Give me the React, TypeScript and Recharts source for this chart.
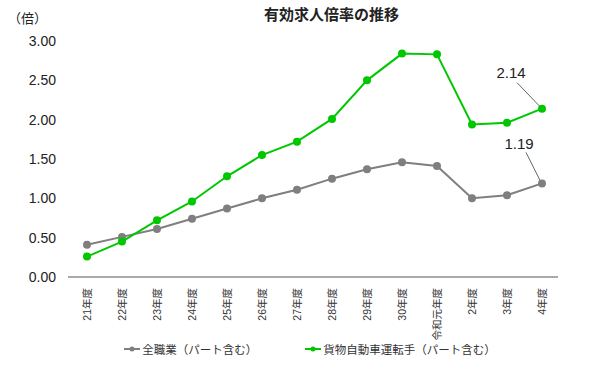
import { LineChart, Line, XAxis, YAxis, Legend, LabelList } from 'recharts'

const FONT = "'Liberation Sans', Arial, 'Noto Sans CJK JP', sans-serif"

const years = [
  '21年度', '22年度', '23年度', '24年度', '25年度', '26年度', '27年度',
  '28年度', '29年度', '30年度', '令和元年度', '2年度', '3年度', '4年度',
]
const allJobs = [0.41, 0.51, 0.61, 0.74, 0.87, 1.0, 1.11, 1.25, 1.37, 1.46, 1.41, 1.0, 1.04, 1.19]
const truckDrivers = [0.26, 0.45, 0.72, 0.96, 1.28, 1.55, 1.72, 2.01, 2.5, 2.84, 2.83, 1.94, 1.96, 2.14]
const yTicks = [0, 0.5, 1, 1.5, 2, 2.5, 3]

const GRAY = '#7f7f7f'
const GREEN = '#00c800'

const chartData = years.map((year, i) => ({
  year,
  all: allJobs[i],
  truck: truckDrivers[i],
}))

const lastIndex = years.length - 1

// vertical tick labels under the axis
function YearTick(props: any) {
  const { x, y, payload } = props
  const tx = x + 4
  const ty = y + 3
  return (
    <text
      x={tx}
      y={ty}
      transform={`rotate(-90 ${tx} ${ty})`}
      textAnchor="end"
      fontSize={10.5}
      fill="#333"
      fontFamily={FONT}
    >
      {payload.value}
    </text>
  )
}

// callout label only on the last point, with a thin leader line
function makeCallout(dx: number, dy: number, line: [number, number, number, number]) {
  return function Callout(props: any) {
    const { x, y, value, index } = props
    if (index !== lastIndex) return null
    return (
      <g>
        <line
          x1={x + line[0]}
          y1={y + line[1]}
          x2={x + line[2]}
          y2={y + line[3]}
          stroke="#666"
          strokeWidth={1}
        />
        <text
          x={x + dx}
          y={y + dy}
          textAnchor="middle"
          dominantBaseline="central"
          fontSize={15}
          fill="#222"
          fontFamily={FONT}
        >
          {value.toFixed(2)}
        </text>
      </g>
    )
  }
}

function LegendContent() {
  const items = [
    { name: '全職業（パート含む）', color: GRAY },
    { name: '貨物自動車運転手（パート含む）', color: GREEN },
  ]
  return (
    <div style={{ display: 'flex', justifyContent: 'center', gap: 48, paddingLeft: 62, paddingTop: 4, fontFamily: FONT }}>
      {items.map((it) => (
        <div key={it.name} style={{ display: 'flex', alignItems: 'center', fontSize: 11.5, color: '#333' }}>
          <svg width={16} height={8} style={{ marginRight: 2 }}>
            <line x1={0} y1={4} x2={16} y2={4} stroke={it.color} strokeWidth={2} />
            <circle cx={8} cy={4} r={2.5} fill={it.color} />
          </svg>
          {it.name}
        </div>
      ))}
    </div>
  )
}

export default function App() {
  return (
    <div style={{ position: 'relative', width: 601, height: 365, background: '#fff', fontFamily: FONT }}>
      <style>{'body{margin:0}'}</style>
      <div
        style={{
          position: 'absolute',
          top: 3,
          left: 264,
          fontSize: 15,
          fontWeight: 'bold',
          color: '#222',
          whiteSpace: 'nowrap',
        }}
      >
        有効求人倍率の推移
      </div>
      <div style={{ position: 'absolute', top: 8, left: 8, fontSize: 13, color: '#222' }}>（倍）</div>
      <LineChart
        width={601}
        height={365}
        data={chartData}
        margin={{ top: 41, right: 43, left: 0, bottom: 5 }}
      >
        <XAxis
          dataKey="year"
          interval={0}
          tick={<YearTick />}
          tickLine={false}
          axisLine={{ stroke: '#8c8c8c', strokeWidth: 1.5 }}
          padding={{ left: 19, right: 16 }}
          height={60}
        />
        <YAxis
          domain={[0, 3]}
          ticks={yTicks}
          tickFormatter={(v: number) => v.toFixed(2)}
          axisLine={false}
          tickLine={false}
          tickMargin={6}
          width={68}
          tick={{ fontSize: 14, fill: '#222', fontFamily: FONT }}
        />
        <Legend verticalAlign="bottom" height={23} content={<LegendContent />} />
        <Line
          dataKey="all"
          name="全職業（パート含む）"
          stroke={GRAY}
          strokeWidth={2}
          dot={{ r: 3, fill: GRAY, stroke: GRAY }}
          isAnimationActive={false}
        >
          <LabelList dataKey="all" content={makeCallout(-23, -40, [-16, -31, -2, -3])} />
        </Line>
        <Line
          dataKey="truck"
          name="貨物自動車運転手（パート含む）"
          stroke={GREEN}
          strokeWidth={2}
          dot={{ r: 3, fill: GREEN, stroke: GREEN }}
          isAnimationActive={false}
        >
          <LabelList dataKey="truck" content={makeCallout(-31, -36, [-25, -26, -2, -2])} />
        </Line>
      </LineChart>
    </div>
  )
}
